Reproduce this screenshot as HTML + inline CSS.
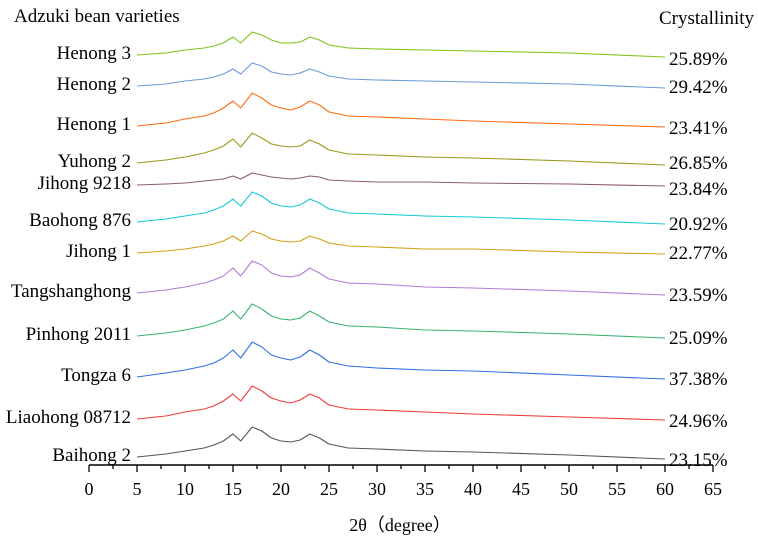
<!DOCTYPE html>
<html><head><meta charset="utf-8"><style>
body{margin:0;background:#fff;width:758px;height:541px;overflow:hidden}
svg{display:block;font-family:"Liberation Serif",serif}
</style></head><body>
<svg id="chart" width="758" height="541">
<text x="14" y="22" font-size="19">Adzuki bean varieties</text>
<text x="754" y="24" font-size="19" text-anchor="end">Crystallinity</text>
<text x="400" y="531" font-size="18" text-anchor="middle">2θ（degree）</text>
<g id="axis"></g><g id="series"></g><g id="labels"></g>
</svg>
<script>
const angles=[5,8,10,12,13,14,15,15.8,17,18,19,20,21,22,23,24,25,27,30,35,40,50,60];
const names=["Henong 3","Henong 2","Henong 1","Yuhong 2","Jihong 9218","Baohong 876","Jihong 1","Tangshanghong","Pinhong 2011","Tongza 6","Liaohong 08712","Baihong 2"];
const crystallinity=["25.89%","29.42%","23.41%","26.85%","23.84%","20.92%","22.77%","23.59%","25.09%","37.38%","24.96%","23.15%"];
const offsets=[415,384,344,307,285,248,217,177,134,93,51,13];
const colors=["#7fc31c","#6b9bd8","#ff6a13","#9a9a1a","#8b5a6b","#17c9d6","#d4a017","#b27ad8","#3cb371","#2f6fe0","#f03c3c","#555555"];
const sHenong3=[0,2,5,7,9,12,18,12,23,20,15,12,12,13,18,15,10,7,6,5,4,2,-2];
const sHenong2=[0,2,5,7,9,12,17,12,23,20,14,12,11,13,17,14,10,7,6,5,4,2,-2];
const sHenong1=[0,3,7,10,13,18,25,18,33,28,21,18,16,19,25,21,14,10,9,7,5,2,-1];
const sYuhong2=[0,3,6,10,13,17,24,16,30,25,19,17,16,17,23,19,13,9,8,6,5,2,-2];
const sJihong9218=[0,1,2,4,5,6,9,6,12,10,8,7,6,7,9,8,5,4,3,3,2,1,-1];
const sBaohong876=[0,3,6,9,12,16,23,16,30,26,19,16,15,17,23,19,13,9,8,6,5,2,-2];
const sJihong1=[0,2,4,7,9,12,17,12,22,19,14,12,11,12,17,14,10,7,6,4,4,1,-1];
const sTang=[0,3,6,10,13,17,25,17,32,28,20,17,16,18,25,20,14,10,9,6,5,2,-2];
const sPinhong=[0,3,6,10,13,17,25,17,32,27,20,17,16,18,25,20,14,10,9,6,5,2,-2];
const sTongza6=[0,4,7,11,14,19,27,19,35,30,22,19,17,20,27,22,15,11,9,7,6,2,-2];
const sLiaohong=[0,3,7,10,13,18,25,18,33,28,21,18,16,19,25,21,14,10,9,7,5,2,-1];
const sBaihong2=[0,3,6,9,12,16,23,16,30,26,19,16,15,17,23,19,13,9,8,6,5,2,-2];
const seriesData=[sHenong3,sHenong2,sHenong1,sYuhong2,sJihong9218,sBaohong876,sJihong1,sTang,sPinhong,sTongza6,sLiaohong,sBaihong2];
const xTicks=[0,5,10,15,20,25,30,35,40,45,50,55,60,65];
const NS="http://www.w3.org/2000/svg";
const xs=v=>89+v*9.6;
const ys=v=>470-v;
function mk(t,a,p){const e=document.createElementNS(NS,t);for(const k in a)e.setAttribute(k,a[k]);p.appendChild(e);return e;}
const ax=document.getElementById('axis');
const axLine=mk('line',{x1:xs(0),x2:xs(65),y1:465,y2:465,stroke:'#000','stroke-width':1.5},ax);


for(let v=0;v<=65;v+=2.5){
  const maj=v%5===0;
  const t=mk('line',{x1:xs(v),x2:xs(v),y1:465,y2:maj?472:469,stroke:'#000','stroke-width':1.3},ax);
  
  
}
xTicks.forEach(v=>{
  const t=mk('text',{x:xs(v),y:495,'font-size':18,'text-anchor':'middle'},ax);
  t.textContent=v;
  
  
});
const sg=document.getElementById('series'),lg=document.getElementById('labels');
const pctY=[65,93,134,169,195,230,259,301,344,385,427,466];
seriesData.forEach((arr,i)=>{
  const d=arr.map((v,j)=>(j?'L':'M')+xs(angles[j]).toFixed(1)+','+ys(offsets[i]+v).toFixed(1)).join(' ');
  const p=mk('path',{d:d,fill:'none',stroke:colors[i],'stroke-width':1.1,'stroke-linejoin':'round'},sg);
  
  
  const n=mk('text',{x:131,y:ys(offsets[i])+4,'font-size':19,'text-anchor':'end'},lg);
  n.textContent=names[i];
  
  
  const c=mk('text',{x:669,y:pctY[i],'font-size':19},lg);
  c.textContent=crystallinity[i];
  
  
});
</script>
</body></html>
